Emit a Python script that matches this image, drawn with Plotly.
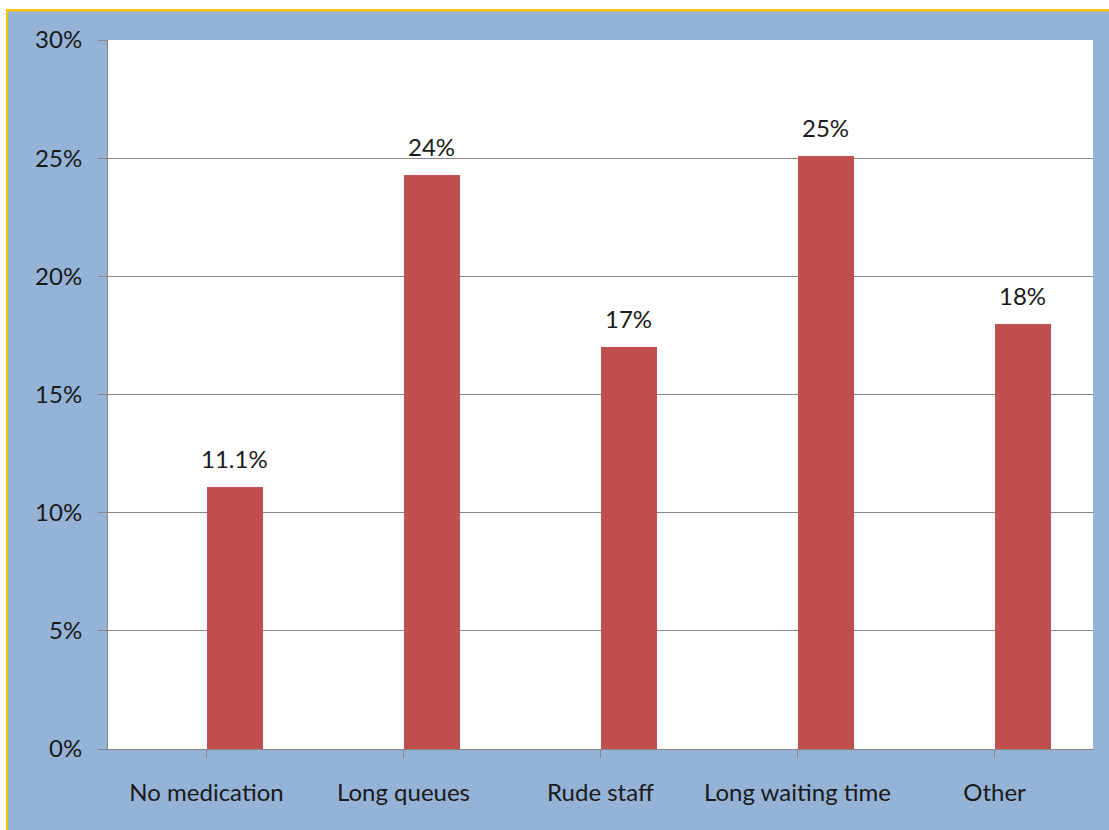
import plotly.graph_objects as go

# Survey results: reasons for dissatisfaction
categories = ["No medication", "Long queues", "Rude staff", "Long waiting time", "Other"]
shares = [0.111, 0.243, 0.17, 0.251, 0.18]
label_decimals = [1, 0, 0, 0, 0]
y_ticks = [0, 0.05, 0.10, 0.15, 0.20, 0.25, 0.30]

W, H = 1109, 830
ML, MR, MT, MB = 108, 16, 40, 81
PW, PH = W - ML - MR, H - MT - MB

BLUE = "#95B3D7"
RED = "#C0504D"
AXIS = "#868686"
ORANGE = "#FFC000"
FONT = "Lato"
TXT = "#1a1a1a"
FS = 24

bar_w = 56 / 197  # fraction of a category slot

fig = go.Figure()
fig.add_trace(go.Bar(
    x=list(range(len(categories))),
    y=shares,
    width=bar_w,
    offset=0,
    marker=dict(color=RED, line=dict(width=0)),
    hoverinfo="skip",
))

# value labels above the bars
for i, (v, d) in enumerate(zip(shares, label_decimals)):
    fig.add_annotation(
        x=i + bar_w / 2, y=v, xref="x", yref="y",
        text=f"{v * 100:.{d}f}%",
        showarrow=False, yanchor="bottom", yshift=12,
        font=dict(family=FONT, size=FS, color=TXT),
    )


def px_x(p):
    return (p - ML) / PW


def px_y(p):
    return (H - MB - p) / PH


shapes = [
    # white strip above and left of the frame
    dict(type="rect", xref="paper", yref="paper", x0=px_x(0), x1=px_x(W), y0=px_y(9), y1=px_y(-2),
         fillcolor="white", line=dict(width=0), layer="above"),
    dict(type="rect", xref="paper", yref="paper", x0=px_x(-2), x1=px_x(6), y0=px_y(H + 2), y1=px_y(0),
         fillcolor="white", line=dict(width=0), layer="above"),
    # orange frame edges
    dict(type="rect", xref="paper", yref="paper", x0=px_x(6), x1=px_x(W + 2), y0=px_y(11.5), y1=px_y(9),
         fillcolor=ORANGE, line=dict(width=0), layer="above"),
    dict(type="rect", xref="paper", yref="paper", x0=px_x(6), x1=px_x(8), y0=px_y(H + 2), y1=px_y(9),
         fillcolor=ORANGE, line=dict(width=0), layer="above"),
]

fig.update_layout(
    width=W, height=H,
    margin=dict(l=ML, r=MR, t=MT, b=MB, pad=0),
    paper_bgcolor=BLUE,
    plot_bgcolor="white",
    showlegend=False,
    bargap=0,
    shapes=shapes,
    font=dict(family=FONT, size=FS, color=TXT),
    xaxis=dict(
        range=[-0.5, len(categories) - 0.5],
        tickmode="array",
        tickvals=list(range(len(categories))),
        ticktext=categories,
        tickson="boundaries",
        ticks="outside", ticklen=8, tickcolor=AXIS, tickwidth=1,
        showline=True, linecolor=AXIS, linewidth=1,
        showgrid=False, zeroline=False,
        ticklabelstandoff=14,
        tickfont=dict(family=FONT, size=FS, color=TXT),
    ),
    yaxis=dict(
        range=[0, 0.3],
        tickmode="array",
        tickvals=y_ticks,
        tickformat=".0%",
        ticks="outside", ticklen=9, tickcolor=AXIS, tickwidth=1,
        showline=True, linecolor=AXIS, linewidth=1,
        showgrid=True, gridcolor=AXIS, gridwidth=1,
        zeroline=False,
        ticklabelstandoff=11,
        tickfont=dict(family=FONT, size=FS, color=TXT),
    ),
)

fig.write_html("out.html")
